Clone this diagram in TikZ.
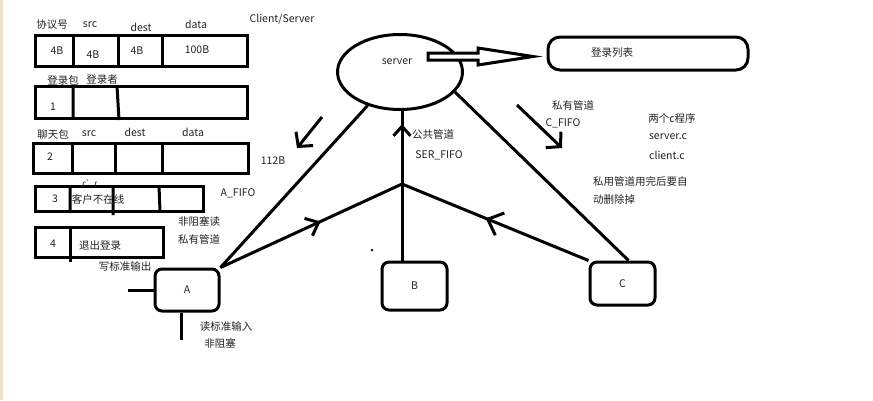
\documentclass[tikz,border=0pt]{standalone}
\usepackage{fontspec}
\setmainfont{Noto Sans CJK SC}
\usetikzlibrary{shapes.geometric,arrows.meta,decorations.markings,calc}
\definecolor{strip}{HTML}{EAE3CC}
\definecolor{ink}{HTML}{222222}
\begin{document}
\begin{tikzpicture}[x=1pt,y=-1pt,
  lbl/.style={font=\fontsize{10.5}{12}\selectfont, inner sep=0pt, text=ink},
  small/.style={font=\fontsize{8}{9}\selectfont, inner sep=0pt, text=ink},
  pbox/.style={draw, line width=3pt},
  term/.style={draw, line width=3pt, rounded corners=7pt, inner sep=0pt, font=\fontsize{10.5}{12}\selectfont, text=ink},
  conn/.style={line width=3pt},
  barb/.style={-{Straight Barb[length=10pt,width=22pt]}},
  chev/.style n args={3}{postaction={decorate}, decoration={markings, mark=at position #1 with {\draw[line width=3pt, line join=round] (-#2pt,#3pt) -- (0pt,0pt) -- (-#2pt,-#3pt);}}}
]
\useasboundingbox (0,0) rectangle (873,400);
\fill[white] (0,0) rectangle (873,400);
\fill[strip] (0,0) rectangle (3,400);

% ---- packet tables ----
\node[lbl] (cs) at (282,19) {Client/Server};
\node[lbl] (h1) at (52,25) {协议号};
\node[lbl] (h2) at (90,25) {src};
\node[lbl] (h3) at (141,27) {dest};
\node[lbl] (h4) at (196,24) {data};
\draw[pbox] (35,35) rectangle (247,66);
\draw[pbox] (73,35) -- (73,66) (118,35) -- (118,66) (162,35) -- (162,66);
\node[lbl] (v1) at (57,51) {4B};
\node[lbl] (v2) at (93,55) {4B};
\node[lbl] (v3) at (137,51) {4B};
\node[lbl] (v4) at (197,50) {100B};

\node[lbl] (l1) at (63,80) {登录包};
\node[lbl] (l2) at (102,80) {登录者};
\draw[pbox] (35,86) rectangle (247,118);
\draw[pbox] (73,86) -- (73,118) (117,86) -- (119,120);
\node[lbl] (n1) at (53,107) {1};

\node[lbl] (c1) at (53,134) {聊天包};
\node[lbl] (c2) at (89,134) {src};
\node[lbl] (c3) at (135,132) {dest};
\node[lbl] (c4) at (193,132) {data};
\draw[pbox] (33,143) rectangle (248,173);
\draw[pbox] (72,143) -- (72,173) (115,143) -- (115,173) (162,143) -- (162,173);
\node[lbl] (n2) at (50,157) {2};
\node[lbl] (sz) at (273,161) {112B};

\node[small] (cr) at (90,183) {c'r};
\draw[pbox] (35,186) rectangle (203,211);
\draw[pbox] (70,186) -- (70,213) (113,186) -- (113,215) (159,186) -- (160,211);
\node[lbl] (n3) at (55,199) {3};
\node[lbl] (off) at (98,199) {客户不在线};
\node[lbl] (afifo) at (238,193) {A\_FIFO};
\node[lbl] (nb) at (199,221) {非阻塞读};
\node[lbl] (pp) at (199,239) {私有管道};

\draw[pbox] (35,227) rectangle (163,257);
\draw[pbox] (70,227) -- (70,262);
\node[lbl] (n4) at (53,244) {4};
\node[lbl] (out) at (100,246) {退出登录};
\node[lbl] (wout) at (125,266) {写标准输出};

% ---- server and clients ----
\node[draw, ellipse, line width=3pt, minimum width=125, minimum height=75, inner sep=0pt] (server) at (400,72) {};
\node[lbl] (srvt) at (397,62) {server};
\draw[line width=3pt, fill=white] (428,53) -- (478,53) -- (478,48) -- (533,56.5) -- (478,65) -- (478,60) -- (428,60) -- cycle;
\node[draw, line width=3pt, rounded corners=12pt, minimum width=200, minimum height=33, inner sep=0pt] (list) at (648,53.5) {};
\node[lbl] (listt) at (612,53) {登录列表};

\node[term, minimum width=64, minimum height=42] (A) at (187,290) {A};
\node[term, minimum width=65, minimum height=48] (B) at (414.5,286) {B};
\node[term, minimum width=65, minimum height=43] (C) at (622.5,283.5) {C};

\coordinate (j) at (402,184);
\draw[conn] (server.226) -- (A.north east);
\draw[conn, chev={0.79}{9.5}{8.5}] (j) -- (j |- server.south);
\draw[conn] (j) -- (j |- B.north);
\draw[conn] (server.340) -- ([xshift=6pt]C.north);
\draw[conn, chev={0.54}{11}{9.5}] (A.north east) -- (j);
\draw[conn, chev={0.54}{13}{12}] (C.north west) -- (j);

\coordinate (aw) at (128,290);
\draw[conn] (aw) -- (A.west);
\coordinate (as) at (181,340);
\draw[conn] (A.south -| as) -- (as);
\node[lbl] (rin) at (226,327) {读标准输入};
\node[lbl] (rnb) at (220,343) {非阻塞};

\fill[ink] (372,250) circle (1.5pt);

% ---- free arrows ----
\coordinate (la1) at (322,117);
\coordinate (la2) at (297,148);
\draw[conn, barb] (la1) -- (la2);
\coordinate (ra1) at (517,105);
\coordinate (ra2) at (562,148);
\draw[conn, barb] (ra1) -- (ra2);

% ---- labels ----
\node[lbl] (pub) at (433,134) {公共管道};
\node[lbl] (serf) at (439,155) {SER\_FIFO};
\node[lbl] (priv) at (573,105) {私有管道};
\node[lbl] (cfifo) at (563,123) {C\_FIFO};
\node[lbl] (two) at (672,118) {两个c程序};
\node[lbl] (serc) at (668,137) {server.c};
\node[lbl] (clic) at (667,155) {client.c};
\node[lbl, anchor=west] (note1) at (593,181) {私用管道用完后要自};
\node[lbl, anchor=west] (note2) at (593,199) {动删除掉};
\end{tikzpicture}
\end{document}
